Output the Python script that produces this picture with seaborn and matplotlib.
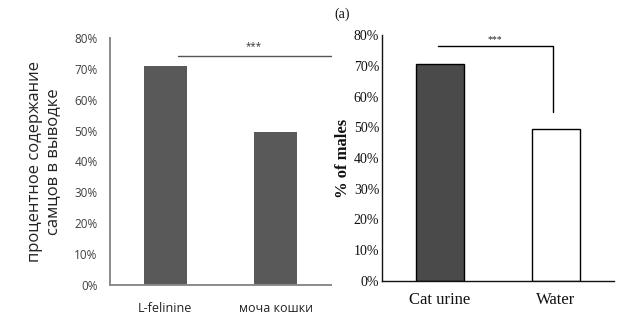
import matplotlib
matplotlib.use("Agg")
import matplotlib.pyplot as plt
import seaborn as sns
import numpy as np

# Data
left_categories = ["L-felinine", "моча кошки"]
left_values = [70.8, 49.6]
right_categories = ["Cat urine", "Water"]
right_values = [70.5, 49.4]
y_ticks = [0, 10, 20, 30, 40, 50, 60, 70, 80]
y_tick_labels = ["0%", "10%", "20%", "30%", "40%", "50%", "60%", "70%", "80%"]
left_ylabel = "процентное содержание\nсамцов в выводке"
right_ylabel = "% of males"
sig_text = "***"
panel_tag = "(a)"

sns.set_theme(style="white")
plt.rcParams['font.family'] = ['Open Sans', 'DejaVu Sans']

fig = plt.figure(figsize=(6.2, 3.22), dpi=100)

# ---------- Left panel ----------
axL = fig.add_axes([110/620, 1-285/322, (331-110)/620, (285-38)/322])
sns.barplot(x=left_categories, y=left_values, hue=left_categories,
            palette=["#595959", "#595959"], width=0.39, ax=axL,
            legend=False, saturation=1, linewidth=0)
axL.set_xlim(-0.5, 1.5)
axL.set_ylim(0, 80)
axL.set_yticks(y_ticks)
axL.set_yticklabels(y_tick_labels, fontsize=8.5, color="#404040")
axL.tick_params(axis="both", length=0)
axL.tick_params(axis="y", pad=9)
axL.tick_params(axis="x", pad=12)
for lbl in axL.get_xticklabels():
    lbl.set_fontsize(9)
    lbl.set_color("#222222")
axL.set_xlabel("")
axL.set_ylabel(left_ylabel, fontsize=12, color="#222222", linespacing=1.2, labelpad=9)
for s in ["top", "right"]:
    axL.spines[s].set_visible(False)
for s in ["left", "bottom"]:
    axL.spines[s].set_color("#8a8a8a")
    axL.spines[s].set_linewidth(1.4)
axL.plot([0.115, 1.5], [74.2, 74.2], color="#555555", lw=1.0, clip_on=False)
axL.text(0.8, 75.5, sig_text, ha="center", va="bottom", fontsize=7, color="#333333")

# ---------- Right panel ----------
serif = ['Liberation Serif', 'DejaVu Serif']
axR = fig.add_axes([382/620, 1-281/322, (614-382)/620, (281-35)/322])
sns.barplot(x=right_categories, y=right_values, hue=right_categories,
            palette=["#4a4a4a", "#ffffff"], width=0.41, ax=axR,
            legend=False, saturation=1, edgecolor="black", linewidth=1.0)
axR.set_xlim(-0.5, 1.5)
axR.set_ylim(0, 80)
axR.set_yticks(y_ticks)
axR.set_yticklabels(y_tick_labels, fontsize=10, family=serif, color="#111111")
axR.tick_params(axis="both", length=0)
axR.tick_params(axis="y", pad=2)
axR.tick_params(axis="x", pad=8)
for lbl in axR.get_xticklabels():
    lbl.set_fontsize(12)
    lbl.set_family(serif)
    lbl.set_color("#111111")
axR.set_xlabel("")
axR.set_ylabel(right_ylabel, fontsize=12, family=serif, fontweight="bold",
               color="#111111", labelpad=2)
for s in ["top", "right"]:
    axR.spines[s].set_visible(False)
for s in ["left", "bottom"]:
    axR.spines[s].set_color("#111111")
    axR.spines[s].set_linewidth(1.0)
axR.plot([-0.02, 0.97, 0.97], [76.4, 76.4, 55.0], color="black", lw=1.0, clip_on=False)
axR.text(0.47, 77.2, sig_text, ha="center", va="bottom", fontsize=7, family=serif, color="#222222")

fig.text(342/620, 1-14/322, panel_tag, ha="center", va="center", fontsize=10,
         family=serif, color="#111111")

fig.savefig("out.png", dpi=100)
